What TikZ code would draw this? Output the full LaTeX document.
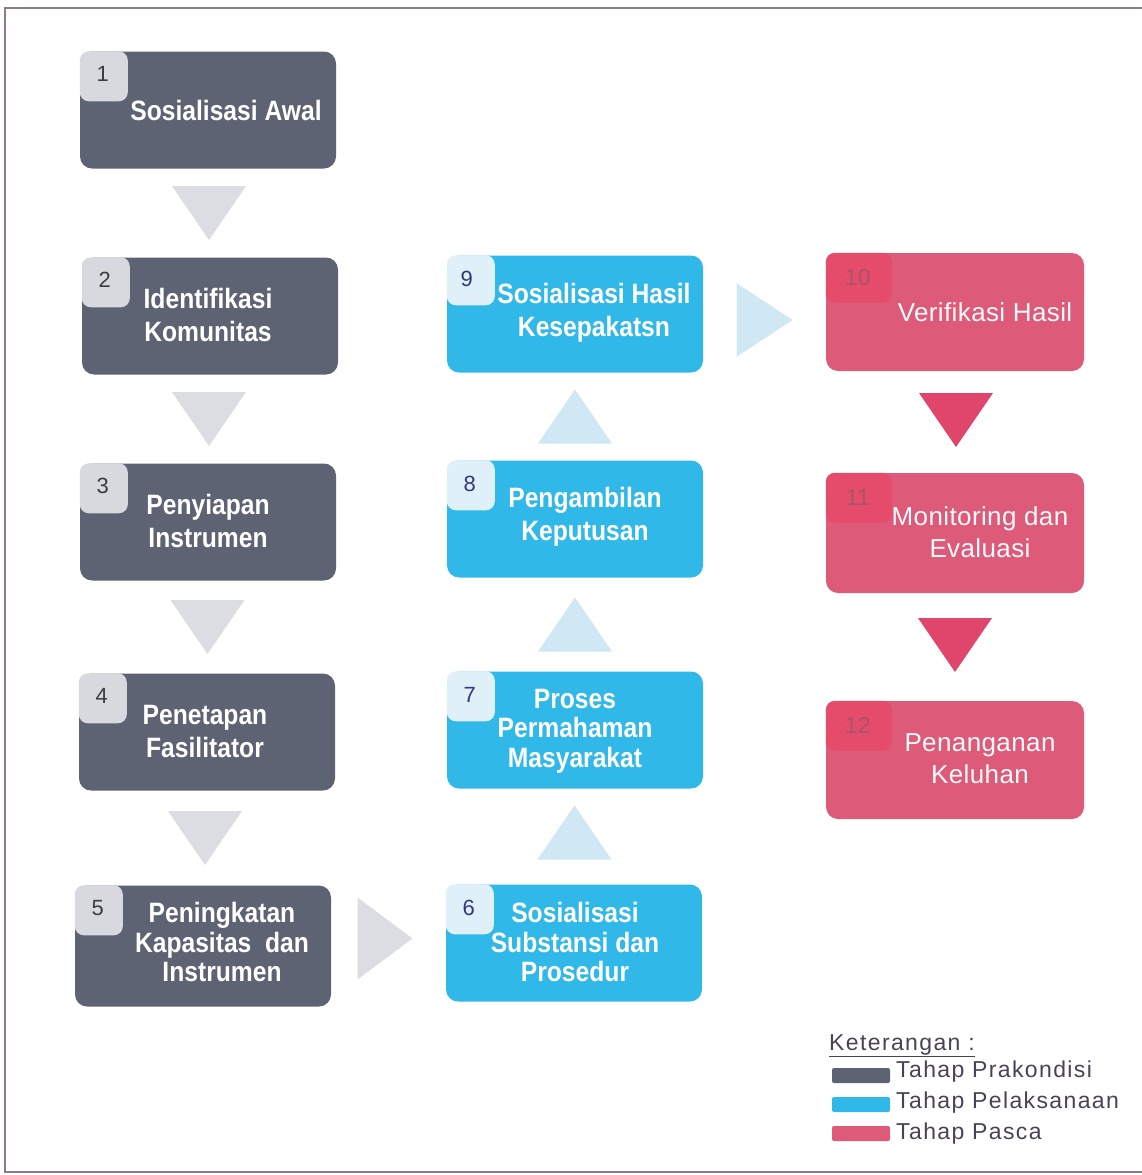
\documentclass[tikz,border=0pt]{standalone}
\usepackage{fontspec}
\setmainfont{Liberation Sans}
\newfontfamily\condfont[FakeStretch=0.88]{Liberation Sans}
\newfontfamily\spacedfont[LetterSpace=1.5]{Liberation Sans}
\newfontfamily\legfont[LetterSpace=6]{Liberation Sans}
\usetikzlibrary{calc}
\definecolor{cGray}{HTML}{5D6373}
\definecolor{cGrayTab}{HTML}{D8D9DF}
\definecolor{cCyan}{HTML}{2FB8E8}
\definecolor{cCyanTab}{HTML}{DFF0F8}
\definecolor{cPink}{HTML}{DD5A78}
\definecolor{cPinkTab}{HTML}{E54C6C}
\definecolor{triGray}{HTML}{DCDDE3}
\definecolor{triBlue}{HTML}{D0E7F4}
\definecolor{triPink}{HTML}{E0466C}
\definecolor{numDark}{HTML}{3C3C48}
\definecolor{numBlue}{HTML}{36367A}
\definecolor{numPink}{HTML}{A85468}
\definecolor{legText}{HTML}{4A4252}
\definecolor{frameC}{HTML}{8A7C8A}
\tikzset{
  box/.style={rectangle, rounded corners=12pt, minimum width=256pt, minimum height=117pt, inner sep=0pt},
  grayBox/.style={box, fill=cGray},
  cyanBox/.style={box, fill=cCyan},
  pinkBox/.style={box, fill=cPink, minimum width=258pt, minimum height=118pt},
  lblB/.style={text=white, align=center, inner sep=0pt, font=\condfont\bfseries\fontsize{28}{33}\selectfont},
  lblB3/.style={text=white, align=center, inner sep=0pt, font=\condfont\bfseries\fontsize{28}{29.5}\selectfont},
  lblR/.style={text=white!96!gray, align=center, inner sep=0pt, font=\spacedfont\fontsize{26}{32}\selectfont},
  num/.style={inner sep=0pt, font=\fontsize{22}{22}\selectfont},
  numP/.style={inner sep=0pt, font=\spacedfont\fontsize{23}{23}\selectfont, text=numPink},
  leg/.style={inner sep=0pt, anchor=west, text=legText, font=\legfont\fontsize{23}{23}\selectfont},
}
\begin{document}
\begin{tikzpicture}[x=1pt,y=-1pt]
\useasboundingbox (0,0) rectangle (1142,1175);
% frame
\draw[frameC, line width=1.2pt] (1142,8) -- (5,8) -- (5,1172) -- (1142,1172);

% boxes
\node[grayBox] (b1) at (208,110) {};
\node[grayBox] (b2) at (210,316) {};
\node[grayBox] (b3) at (208,522) {};
\node[grayBox] (b4) at (207,732) {};
\node[grayBox, minimum height=121pt] (b5) at (203,946) {};
\node[cyanBox] (b6) at (574,943) {};
\node[cyanBox] (b7) at (575,730) {};
\node[cyanBox] (b8) at (575,519) {};
\node[cyanBox] (b9) at (575,314) {};
\node[pinkBox] (b10) at (955,312) {};
\node[pinkBox, minimum height=120pt] (b11) at (955,533) {};
\node[pinkBox] (b12) at (955,760) {};

% tabs
\foreach \b in {b1,b2,b3,b4,b5}{
  \fill[cGrayTab, rounded corners=9pt] (\b.north west) -- ++(48,0) -- ++(0,50) -- ++(-48,0) -- cycle;
}
\foreach \b in {b6,b7,b8,b9}{
  \fill[cCyanTab, rounded corners=9pt] (\b.north west) -- ++(48,0) -- ++(0,50) -- ++(-48,0) -- cycle;
}
\foreach \b in {b10,b11,b12}{
  \fill[cPinkTab, rounded corners=9pt] (\b.north west) -- ++(66,0) -- ++(0,50) -- ++(-66,0) -- cycle;
}

% numbers
\node[num, text=numDark] (n1) at ($(b1.north west)+(23,23)$) {1};
\node[num, text=numDark] (n2) at ($(b2.north west)+(23,23)$) {2};
\node[num, text=numDark] (n3) at ($(b3.north west)+(23,23)$) {3};
\node[num, text=numDark] (n4) at ($(b4.north west)+(23,23)$) {4};
\node[num, text=numDark] (n5) at ($(b5.north west)+(23,23)$) {5};
\node[num, text=numBlue] (n6) at ($(b6.north west)+(23,24)$) {6};
\node[num, text=numBlue] (n7) at ($(b7.north west)+(23,24)$) {7};
\node[num, text=numBlue] (n8) at ($(b8.north west)+(23,24)$) {8};
\node[num, text=numBlue] (n9) at ($(b9.north west)+(20,24)$) {9};
\node[numP] (n10) at ($(b10.north west)+(32,25)$) {10};
\node[numP] (n11) at ($(b11.north west)+(32,25)$) {11};
\node[numP] (n12) at ($(b12.north west)+(32,25)$) {12};

% labels
\node[lblB] (t1) at ($(b1)+(18,0)$) {Sosialisasi Awal};
\node[lblB] (t2) at ($(b2)+(-2,-1)$) {Identifikasi\\Komunitas};
\node[lblB] (t3) at ($(b3)+(0,-1)$) {Penyiapan\\Instrumen};
\node[lblB] (t4) at ($(b4)+(-2,-1)$) {Penetapan\\Fasilitator};
\node[lblB3] (t5) at ($(b5)+(19,-4)$) {Peningkatan\\Kapasitas~ dan\\Instrumen};
\node[lblB3] (t6) at ($(b6)+(1,-1)$) {Sosialisasi\\Substansi dan\\Prosedur};
\node[lblB3] (t7) at ($(b7)+(0,1)$) {Proses\\Permahaman\\Masyarakat};
\node[lblB] (t8) at ($(b8)+(10,-2)$) {Pengambilan\\Keputusan};
\node[lblB] (t9) at ($(b9)+(19,-1)$) {Sosialisasi Hasil\\Kesepakatsn};
\node[lblR] (t10) at ($(b10)+(30,0)$) {Verifikasi Hasil};
\node[lblR] (t11) at ($(b11)+(25,-1)$) {Monitoring dan\\Evaluasi};
\node[lblR] (t12) at ($(b12)+(25,-1)$) {Penanganan\\Keluhan};

% connectors (triangles)
\coordinate (a12) at ($(b1.south)!0.5!(b2.north)$);
\coordinate (a23) at ($(b2.south)!0.5!(b3.north)$);
\coordinate (a34) at ($(b3.south)!0.5!(b4.north)$);
\coordinate (a45) at ($(b4.south)!0.5!(b5.north)$);
\foreach \m in {a12,a23,a34,a45}{
  \fill[triGray] ($(\m)+(-37,-27)$) -- ($(\m)+(37,-27)$) -- ($(\m)+(0,27)$) -- cycle;
}
\coordinate (a56) at ($(b5.east)!0.5!(b6.west)+(-3,-6)$);
\fill[triGray] ($(a56)+(-28,-41)$) -- ($(a56)+(-28,41)$) -- ($(a56)+(27,0)$) -- cycle;

\coordinate (a67) at ($(b6.north)!0.5!(b7.south)+(0,-4)$);
\coordinate (a78) at ($(b7.north)!0.5!(b8.south)$);
\coordinate (a89) at ($(b8.north)!0.5!(b9.south)$);
\foreach \m in {a67,a78,a89}{
  \fill[triBlue] ($(\m)+(-37,27)$) -- ($(\m)+(37,27)$) -- ($(\m)+(0,-27)$) -- cycle;
}
\coordinate (a910) at ($(b9.east)!0.5!(b10.west)+(0,7)$);
\fill[triBlue] ($(a910)+(-28,-37)$) -- ($(a910)+(-28,37)$) -- ($(a910)+(28,0)$) -- cycle;

\coordinate (a1011) at ($(b10.south)!0.5!(b11.north)+(1,-2)$);
\coordinate (a1112) at ($(b11.south)!0.5!(b12.north)+(0,-2)$);
\foreach \m in {a1011,a1112}{
  \fill[triPink] ($(\m)+(-37,-27)$) -- ($(\m)+(37,-27)$) -- ($(\m)+(0,27)$) -- cycle;
}

% legend
\node[leg, anchor=base west] (kt) at (829,1050) {\underline{Keterangan :}};
\fill[cGray, rounded corners=2pt] (832,1068) rectangle (890,1083);
\fill[cCyan, rounded corners=2pt] (832,1097) rectangle (890,1112);
\fill[cPink, rounded corners=2pt] (832,1126) rectangle (890,1141);
\node[leg] (l1) at (896,1072) {Tahap Prakondisi};
\node[leg] (l2) at (896,1103) {Tahap Pelaksanaan};
\node[leg] (l3) at (896,1134) {Tahap Pasca};
\end{tikzpicture}
\end{document}
